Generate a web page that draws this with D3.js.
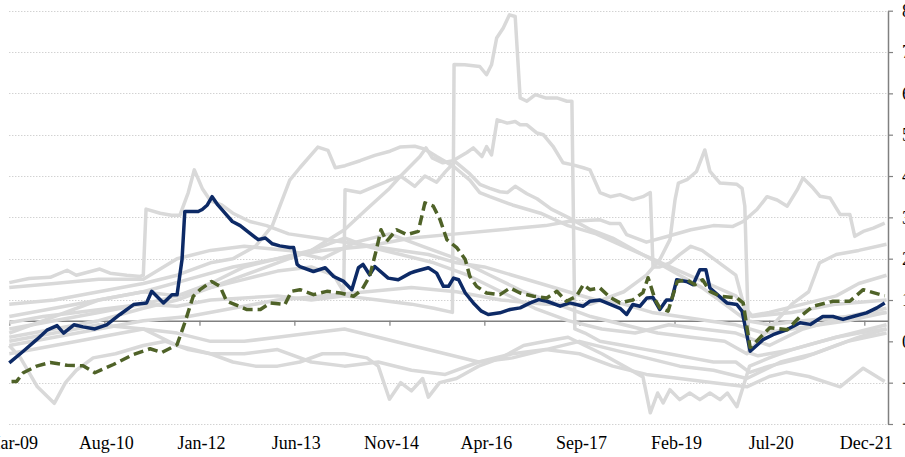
<!DOCTYPE html>
<html>
<head>
<meta charset="utf-8">
<script src="https://cdn.jsdelivr.net/npm/d3@7"></script>
<style>
body { margin: 0; background: #fff; overflow: hidden; }
.axis text { font-family: "Liberation Serif", serif; font-size: 18px; fill: #000; }
</style>
</head>
<body>
<div id="chart"></div>
<script>
// month offsets are counted from Mar-09
var START = new Date(2009, 2, 1);
var END = new Date(2022, 3, 9);

var xTickMonths = [0, 17, 34, 51, 68, 85, 102, 119, 136, 153];
var yTicks = [8, 7, 6, 5, 4, 3, 2, 1, 0, -1, -2];
var gridValues = [8, 7, 6, 5, 4, 3, 2, 1, -1, -2];
var AXIS_CROSS = 0.5;

// [month, value]
var blueSeries = [[0,-0.52],[2.5,-0.24],[4.9,0.04],[6.7,0.27],[8.5,0.38],[9.7,0.2],[11.5,0.4],[13.2,0.35],[15.3,0.3],[17.4,0.4],[19.8,0.65],[22.2,0.89],[24.6,0.93],[25.5,1.21],[27.6,0.93],[29.1,1.13],[30,1.13],[30.9,1.98],[31.4,3.14],[33.8,3.14],[34.5,3.19],[35.4,3.3],[36.3,3.5],[37.3,3.3],[38.6,3.1],[39.9,2.9],[41.3,2.8],[42.7,2.65],[44.5,2.46],[45.8,2.5],[47,2.36],[48.4,2.31],[50.2,2.27],[50.9,2.27],[51.5,1.86],[52,1.81],[54.4,1.69],[56.5,1.78],[58,1.57],[59.8,1.45],[61.3,1.25],[62.5,1.78],[63.3,1.86],[64.5,1.61],[65.4,1.81],[67.8,1.53],[69.6,1.49],[71.7,1.65],[72.6,1.69],[75,1.78],[76.5,1.65],[77.7,1.33],[78.6,1.33],[79.5,1.53],[80.4,1.49],[81.6,1.17],[83,0.93],[84.5,0.73],[85.7,0.65],[87.8,0.69],[89.6,0.77],[91.4,0.81],[93.2,0.93],[94.7,1.01],[96.2,0.97],[98.6,0.85],[100.3,0.93],[102.7,0.85],[103.9,0.97],[105.7,1.0],[109.3,0.8],[110.5,0.65],[111.6,0.89],[112.9,0.85],[114.1,1.05],[115.2,1.06],[116.4,0.77],[117.6,1.0],[118.5,1.0],[119.4,1.49],[121.2,1.45],[122.4,1.37],[123.6,1.73],[124.7,1.73],[125.4,1.29],[126.3,1.18],[128.4,0.93],[130.2,0.89],[131.1,0.73],[132.6,-0.24],[134.9,0.04],[136.7,0.16],[139.1,0.28],[141.5,0.45],[143.3,0.41],[145.6,0.6],[147.4,0.6],[149.2,0.53],[151,0.6],[153.4,0.69],[155.2,0.81],[156.7,0.93]];

var greenSeries = [[0.4,-0.97],[1.3,-0.97],[2.5,-0.76],[4.9,-0.6],[7.3,-0.51],[10.3,-0.58],[13.2,-0.59],[15.3,-0.76],[18.6,-0.56],[22.1,-0.32],[25.2,-0.18],[27.3,-0.27],[30,-0.08],[31.4,0.45],[32.9,1.09],[34.1,1.25],[36.2,1.45],[37.7,1.33],[38.9,0.97],[42.5,0.77],[44.9,0.77],[46.7,0.93],[49.3,0.89],[50.5,1.21],[52,1.25],[54.4,1.13],[56.8,1.21],[59.2,1.17],[61.6,1.09],[63.1,1.25],[64.5,1.57],[65.7,2.22],[66.5,2.7],[67.5,2.42],[69.3,2.7],[71.1,2.58],[73.2,2.66],[74.4,3.35],[75.9,3.27],[77.1,2.94],[78.3,2.46],[80.1,2.26],[81.6,1.98],[82.4,1.57],[83.6,1.33],[85.4,1.17],[87.8,1.13],[89.6,1.29],[91.4,1.17],[93.8,1.09],[96.2,1.05],[98,1.21],[99.7,0.97],[101.5,1.09],[102.7,1.37],[103.9,1.25],[105.7,1.29],[107.5,1.06],[109.3,0.93],[111.6,1.0],[113.4,1.18],[114.3,1.54],[115.6,1.0],[116.4,0.81],[117.9,0.73],[119.5,1.45],[121.3,1.49],[122.7,1.37],[124.1,1.49],[125.4,1.21],[127.2,1.09],[130.2,1.05],[131.3,0.93],[132.6,-0.15],[134,0.04],[136.1,0.33],[139.2,0.28],[141.5,0.6],[143.8,0.85],[147.4,0.97],[150.4,0.97],[152.8,1.25],[154.6,1.18],[156.7,1.1]];

// comparison series, drawn in light grey
var greySpike = [[0,0.45],[6,0.6],[12,0.7],[18,0.8],[24,0.9],[30,0.85],[36,1.0],[42,1.05],[48,1.1],[54,1.0],[60,1.1],[66,1.0],[72,0.9],[76,0.8],[79.3,0.7],[79.6,6.7],[81.5,6.69],[84.2,6.65],[85.4,6.45],[86.3,6.69],[87.2,7.34],[88.4,7.58],[89.5,7.9],[90.5,7.86],[91.4,5.89],[92.6,5.81],[94.1,5.97],[95.9,5.89],[98,5.89],[99.8,5.81],[100.7,5.81],[101.2,0.3],[103,0.2],[105.7,0.0],[110,-0.1],[114,-0.2],[118,-0.3],[122,-0.4],[126,-0.5],[130,-0.5],[132.5,-0.75],[136,-0.6],[142,-0.4],[148,-0.1],[152,0.1],[157,0.3]];
var greyJan12 = [[0,1.42],[3.5,1.52],[7.3,1.55],[10.3,1.72],[12,1.6],[16.2,1.75],[18,1.65],[21,1.6],[23.4,1.57],[24,1.6],[24.5,3.2],[27,3.1],[29,3.05],[30.5,3.05],[32,3.6],[33.1,4.15],[34.5,3.7],[36,3.4],[38,3.3],[40,3.1],[43,2.9],[46,2.8],[50,2.6],[55,2.5],[60,2.4],[65,2.3],[70,2.2],[75,2.1],[80,1.9],[85,1.8],[90,1.6],[95,1.4],[100,1.2],[105,1.0],[110,0.9],[115,0.7],[120,0.6],[125,0.5],[130,0.4],[135,0.2],[140,0.3],[145,0.4],[150,0.5],[157,0.7]];
var greyJun13 = [[0,0.9],[8,1.0],[16,1.2],[24,1.4],[30,1.6],[36,1.9],[40,2.0],[44,2.3],[47,2.8],[50.2,3.9],[52,4.2],[55.2,4.7],[57,4.62],[58.3,4.2],[60.1,4.25],[62.8,4.37],[65.4,4.5],[68.1,4.6],[69.9,4.7],[72.6,4.72],[74.4,4.65],[76.5,4.47],[78,4.35],[79.8,4.2],[82.4,3.9],[84.2,3.6],[86,3.5],[90,3.3],[95,3.1],[100,2.8],[105,2.6],[110,2.3],[115,2.0],[120,1.7],[125,1.4],[130,1.1],[133,0.6],[140,0.7],[148,0.9],[157,1.0]];
var greyNov14 = [[0,0.3],[8,0.5],[16,0.7],[24,0.9],[30,1.1],[36,1.3],[42,1.5],[48,1.7],[54,1.8],[58,1.6],[59.8,1.2],[60.1,3.67],[62.8,3.6],[65.4,3.75],[68.1,3.9],[70,4.0],[72.6,3.75],[74.4,4.0],[76.5,3.85],[78,4.1],[79.8,4.35],[82.4,4.05],[84.2,3.8],[86,3.7],[87.8,3.62],[89.1,3.6],[90.5,3.75],[92.6,3.57],[94.4,3.45],[97,3.2],[100,3.0],[104,2.7],[108,2.5],[112,2.2],[116,1.9],[120,1.6],[124,1.3],[128,0.9],[132,0.5],[136,0.4],[142,0.5],[150,0.6],[157,0.7]];
var greyApr16 = [[0,0.1],[8,0.3],[16,0.5],[24,0.8],[30,1.0],[36,1.3],[42,1.6],[48,1.9],[54,2.2],[60,2.7],[64,3.2],[68,3.7],[70,4.0],[73.5,4.47],[74.6,4.68],[75.7,4.44],[77.6,4.32],[79.4,4.37],[81.9,4.57],[83,4.68],[84.6,4.47],[85.4,4.71],[86.3,4.51],[87.3,5.36],[89.1,5.28],[90.5,5.32],[91.4,5.24],[92.6,5.24],[94.4,5.04],[95.5,5.0],[97.3,4.72],[99.1,4.32],[100.9,4.27],[102.7,4.2],[103.9,4.15],[105.7,3.6],[107.5,3.5],[109.3,3.55],[111.6,3.43],[113.4,3.5],[114.7,3.6],[115.2,1.8],[116.4,1.8],[118.2,1.9],[120,2.1],[122,2.3],[124,2.2],[126,2.0],[128,1.8],[130,1.6],[132,0.6],[136,0.7],[142,0.9],[148,1.1],[152,1.4],[157,1.6]];
var greyFeb19 = [[0,-0.1],[8,0.1],[16,0.3],[24,0.5],[32,0.6],[40,0.8],[48,1.0],[56,1.1],[64,1.2],[72,1.3],[80,1.2],[88,1.0],[96,0.9],[104,0.9],[110,1.2],[114,1.6],[116.4,1.98],[118.2,2.46],[119.1,3.43],[119.7,3.83],[121.3,3.91],[123,4.11],[124.5,4.63],[125.4,4.11],[127.2,3.83],[130.2,3.8],[131.1,3.7],[131.6,3.27],[132.4,-0.28],[134,-0.35],[136,-0.3],[140,-0.2],[144,-0.05],[148,0.1],[152,0.2],[157,0.3]];
var greyDec21 = [[0,0.6],[8,0.8],[16,1.0],[24,1.2],[32,1.5],[40,1.8],[48,2.0],[56,2.2],[64,2.3],[72,2.5],[80,2.6],[88,2.7],[96,2.8],[100,2.9],[105.7,2.94],[107.5,2.85],[109.3,2.85],[110.5,2.58],[114,2.4],[118,2.55],[122,2.7],[126,2.8],[129.5,2.78],[131.3,2.9],[133.8,3.19],[135.6,3.5],[137.4,3.42],[139.2,3.27],[141,3.67],[142,3.95],[143.8,3.71],[145.1,3.51],[146.9,3.47],[148.7,3.07],[150.4,3.07],[151.3,2.54],[152.8,2.66],[154.6,2.74],[156.7,2.86]];
var greyLowA = [[0,-0.1],[2,-0.4],[5,-1.1],[8,-1.5],[10,-1.0],[12,-0.7],[15,-0.4],[19,-0.3],[24,-0.1],[28,0.0],[32,-0.2],[36,-0.3],[40,-0.5],[44,-0.6],[48,-0.6],[52,-0.5],[56,-0.3],[60,-0.3],[64,-0.4],[66,-0.6],[68,-1.4],[70,-1.0],[72,-1.2],[74,-0.9],[75,-1.35],[77,-1.0],[80,-0.9],[84,-0.6],[88,-0.4],[92,-0.1],[96,0.0],[100,0.1],[106,-0.3],[110,-0.6],[113.4,-0.86],[114.7,-1.73],[116,-1.25],[117,-1.49],[118.2,-1.17],[120,-1.41],[121.8,-1.25],[123.6,-1.41],[125.4,-1.25],[127.2,-1.41],[128.5,-1.25],[130.2,-1.58],[131.3,-1.1],[132.5,-0.6],[136,-0.4],[140,-0.2],[148,0.1],[157,0.4]];
var greyMidA = [[0,1.3],[8,1.4],[16,1.5],[24,1.5],[30,2.0],[36,2.2],[42,2.3],[50,2.2],[56,2.0],[62,2.4],[68,2.6],[74,2.3],[80,2.0],[86,1.6],[92,1.2],[98,0.9],[104,0.6],[110,0.4],[116,0.2],[122,0.1],[128,0.0],[132,-0.3],[136,0.3],[140,0.9],[143,1.2],[145,1.9],[148,2.1],[152,2.2],[157,2.35]];
var greyMidB = [[0,0.2],[8,0.6],[16,1.0],[24,1.2],[30,1.1],[36,1.4],[42,1.8],[48,2.0],[54,2.2],[60,2.5],[64,2.3],[70,2.1],[76,1.9],[82,1.6],[88,1.2],[94,0.8],[100,0.5],[106,0.3],[112,0.2],[118,0.4],[124,0.3],[130,0.2],[136,-0.1],[142,0.3],[150,0.6],[157,0.8]];
var greyLowB = [[0,0.0],[8,0.2],[16,0.4],[24,0.3],[30,-0.1],[36,-0.3],[42,-0.3],[48,-0.2],[54,-0.5],[60,-0.6],[66,-0.5],[72,-0.7],[78,-0.8],[84,-0.5],[90,-0.4],[96,-0.2],[102,-0.3],[108,-0.6],[114,-0.8],[120,-0.9],[126,-1.0],[132,-1.1],[136,-0.85],[139,-0.75],[143,-0.85],[148.7,-1.1],[152.8,-0.65],[156.7,-0.97]];
var greyLowC = [[0,-0.3],[8,-0.1],[16,0.1],[24,0.3],[30,0.2],[36,0.0],[42,0.0],[48,0.1],[54,0.2],[60,0.3],[66,0.1],[72,-0.1],[78,-0.3],[84,-0.5],[90,-0.3],[96,-0.2],[102,0.0],[108,-0.2],[114,-0.4],[120,-0.6],[126,-0.7],[132,-0.9],[138,-0.5],[144,-0.3],[150,0.0],[157,0.2]];

var greySeries = [greySpike, greyJan12, greyJun13, greyNov14, greyApr16, greyFeb19, greyDec21, greyLowA, greyMidA, greyMidB, greyLowB, greyLowC];

var width = 905, height = 457;
var plot = { L: 9.3, R: 888, T: 10.7, B: 424 };

function monthDate(m) {
	var whole = Math.floor(m);
	var d = d3.timeMonth.offset(START, whole);
	return d3.timeDay.offset(d, Math.round((m - whole) * 30.4));
}

var x = d3.scaleTime()
	.domain([START, END])
	.range([plot.L, plot.R]);

var y = d3.scaleLinear()
	.domain([-2, 8])
	.range([plot.B, plot.T]);

var svg = d3.select('#chart').append('svg')
	.attr('width', width)
	.attr('height', height);

// dotted gridlines (none at zero in the original)
svg.append('g')
	.selectAll('line')
	.data(gridValues)
	.enter().append('line')
	.attr('x1', plot.L)
	.attr('x2', plot.R)
	.attr('y1', d => Math.round(y(d)) + 0.5)
	.attr('y2', d => Math.round(y(d)) + 0.5)
	.attr('stroke', '#bfbfbf')
	.attr('stroke-width', 1)
	.attr('stroke-dasharray', '1,2');

// horizontal category axis, crossing at 0.5
var xAxis = svg.append('g')
	.attr('class', 'axis')
	.attr('transform', 'translate(0,' + y(AXIS_CROSS) + ')')
	.call(d3.axisBottom(x)
		.tickValues(xTickMonths.map(monthDate))
		.tickSize(5)
		.tickSizeOuter(0)
		.tickFormat(''));
xAxis.select('.domain').attr('stroke', '#808080').attr('stroke-width', 1.5);
xAxis.selectAll('.tick line').attr('stroke', '#808080').attr('stroke-width', 1.2);

// date labels along the bottom
svg.append('g')
	.attr('class', 'axis')
	.selectAll('text')
	.data(xTickMonths)
	.enter().append('text')
	.attr('x', d => x(monthDate(d)) + 2)
	.attr('y', 449)
	.attr('text-anchor', 'middle')
	.text(d => d3.timeFormat('%b-%y')(monthDate(d)));

// value axis on the right
var yAxis = svg.append('g')
	.attr('class', 'axis')
	.attr('transform', 'translate(' + plot.R + ',0)')
	.call(d3.axisRight(y)
		.tickValues(yTicks)
		.tickSize(5)
		.tickSizeOuter(0)
		.tickPadding(9)
		.tickFormat(d3.format('d')));
yAxis.select('.domain').attr('stroke', '#808080').attr('stroke-width', 1.5);
yAxis.selectAll('.tick line').attr('stroke', '#808080').attr('stroke-width', 1.2);

var line = d3.line()
	.x(d => x(monthDate(d[0])))
	.y(d => y(d[1]));

svg.append('g')
	.selectAll('path')
	.data(greySeries)
	.enter().append('path')
	.attr('d', line)
	.attr('fill', 'none')
	.attr('stroke', '#d9d9d9')
	.attr('stroke-width', 3.5)
	.attr('stroke-linejoin', 'round');

svg.append('path')
	.datum(blueSeries)
	.attr('d', line)
	.attr('fill', 'none')
	.attr('stroke', '#0d2a66')
	.attr('stroke-width', 3.5)
	.attr('stroke-linejoin', 'round');

svg.append('path')
	.datum(greenSeries)
	.attr('d', line)
	.attr('fill', 'none')
	.attr('stroke', '#4f6228')
	.attr('stroke-width', 3.5)
	.attr('stroke-dasharray', '10,5')
	.attr('stroke-linejoin', 'round');
</script>
</body>
</html>
